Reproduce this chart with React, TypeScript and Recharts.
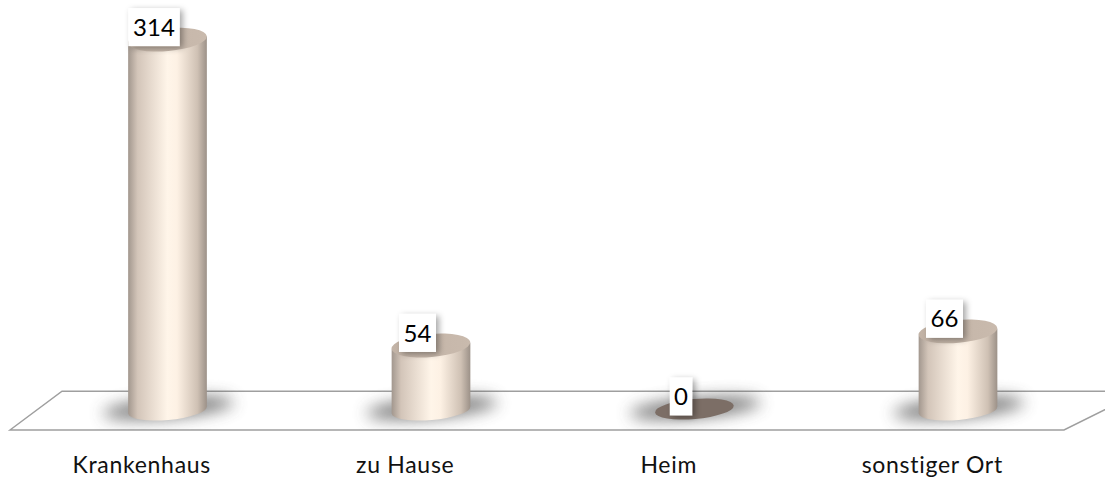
import React from 'react';
import { BarChart, Bar, XAxis, YAxis, LabelList, ReferenceArea } from 'recharts';

const categories = ['Krankenhaus', 'zu Hause', 'Heim', 'sonstiger Ort'];
const counts = [314, 54, 0, 66];

const chartData = categories.map((name, i) => ({ name, value: counts[i] }));

const TILT = -5;
const RY = 10;
const LABEL_SHIFT = -13.5;

// perspective floor, slanted from the plot band ReferenceArea hands us
const Floor = ({ x, y, width, height }: any) => {
  const slant = 26;
  const d = `M${x - slant},${y + height} L${x + slant},${y} L${x + width + slant * 2},${y} L${x + width - slant},${y + height} Z`;
  return <path d={d} fill="#fff" stroke="#9f9f9f" strokeWidth={1.5} />;
};

const Cylinder = ({ x, y, width, height }: any) => {
  const cx = x + width / 2;
  const rx = width / 2;
  const bottom = y + height;
  const dy = rx * Math.sin((-TILT * Math.PI) / 180);
  const dx = rx * Math.cos((TILT * Math.PI) / 180);
  const flat = height < 1;
  const body = `M${cx - dx},${y + dy} L${cx - dx},${bottom + dy} A${rx},${RY} ${TILT} 0 0 ${cx + dx},${bottom - dy} L${cx + dx},${y - dy} A${rx},${RY} ${TILT} 0 0 ${cx - dx},${y + dy} Z`;
  return (
    <g>
      <ellipse
        cx={cx + 1}
        cy={bottom - 2}
        rx={rx + 26}
        ry={RY}
        fill="#4a4a4a"
        opacity={0.72}
        filter="url(#floorBlur)"
        transform={`rotate(${TILT} ${cx} ${bottom})`}
      />
      {!flat && <path d={body} fill="url(#cylBody)" />}
      <ellipse
        cx={cx}
        cy={y - 1}
        rx={rx}
        ry={flat ? RY : RY + 1.5}
        fill={flat ? '#7c6e66' : 'url(#cylTop)'}
        transform={`rotate(${TILT} ${cx} ${y})`}
      />
    </g>
  );
};

const ValueLabel = ({ x, y, width, value }: any) => {
  const text = String(value);
  const boxW = text.length * 14.5 + 8;
  const cx = x + width / 2 + LABEL_SHIFT;
  const cy = y + LABEL_SHIFT;
  return (
    <g>
      <rect x={cx - boxW / 2} y={cy - 19} width={boxW} height={38} fill="#fff" filter="url(#labelShadow)" />
      <text x={cx} y={cy} dy="0.36em" textAnchor="middle" fontFamily="Lato" fontSize={24} fill="#000">
        {text}
      </text>
    </g>
  );
};

export default function App() {
  return (
    <div style={{ position: 'absolute', left: 0, top: 0, width: 1105, height: 477, background: '#fff', overflow: 'hidden' }}>
      <BarChart
        width={1105}
        height={477}
        data={chartData}
        margin={{ top: 10, right: 15, left: 36, bottom: 0 }}
        style={{ overflow: 'visible' }}
      >
        <defs>
          <linearGradient id="cylBody" x1="0" y1="0" x2="1" y2="0">
            <stop offset="0%" stopColor="#a2978e" />
            <stop offset="12%" stopColor="#d3c5b9" />
            <stop offset="50%" stopColor="#fff5e9" />
            <stop offset="62%" stopColor="#fdf1e4" />
            <stop offset="88%" stopColor="#cfc1b4" />
            <stop offset="100%" stopColor="#9c9188" />
          </linearGradient>
          <linearGradient id="cylTop" x1="0" y1="0" x2="1" y2="0">
            <stop offset="0%" stopColor="#c2b3a6" />
            <stop offset="100%" stopColor="#c9baad" />
          </linearGradient>
          <filter id="floorBlur" x="-30%" y="-80%" width="160%" height="260%">
            <feGaussianBlur stdDeviation="8" />
          </filter>
          <filter id="labelShadow" x="-30%" y="-20%" width="170%" height="150%">
            <feDropShadow dx="3" dy="2" stdDeviation="3" floodColor="#000" floodOpacity="0.35" />
          </filter>
        </defs>
        <XAxis
          dataKey="name"
          height={47}
          axisLine={false}
          tickLine={false}
          interval={0}
          dx={-26}
          tickMargin={21}
          tick={{ fontFamily: 'Lato', fontSize: 23, fill: '#111', letterSpacing: 0.7 }}
        />
        <YAxis hide domain={[-17, 340]} allowDataOverflow />
        <ReferenceArea y1={-17} y2={16} shape={Floor} ifOverflow="visible" />
        <Bar dataKey="value" barSize={79} shape={Cylinder} isAnimationActive={false}>
          <LabelList dataKey="value" content={ValueLabel} />
        </Bar>
      </BarChart>
    </div>
  );
}
